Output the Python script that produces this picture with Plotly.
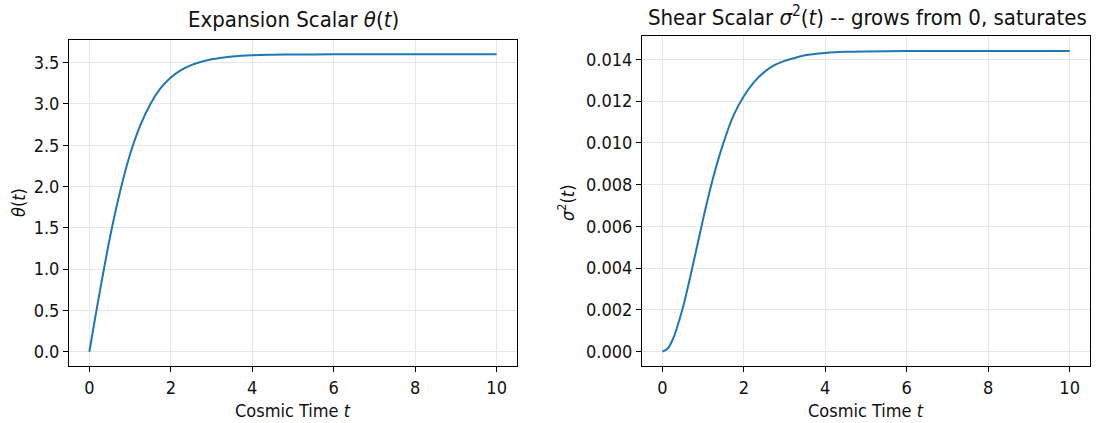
import plotly.graph_objects as go

# Data
t_vals = [0, 0.125, 0.25, 0.5, 0.75, 1.0, 1.25, 1.5, 1.75, 2.0, 2.25, 2.5, 2.75,
          3.0, 3.25, 3.5, 4.0, 4.5, 5.0, 6.0, 7.0, 8.0, 9.0, 10.0]
theta_vals = [0.0, 0.36, 0.71, 1.37, 1.93, 2.39, 2.74, 3.00, 3.19, 3.32, 3.41, 3.47, 3.51,
              3.54, 3.56, 3.575, 3.59, 3.595, 3.598, 3.6, 3.6, 3.6, 3.6, 3.6]
shear_vals = [0.0, 0.00014, 0.00056, 0.00208, 0.00415, 0.00635, 0.00835, 0.0100, 0.01133, 0.01223,
              0.01291, 0.01339, 0.01372, 0.01393, 0.01407, 0.01420, 0.01431, 0.01436, 0.01438,
              0.0144, 0.0144, 0.0144, 0.0144, 0.0144]

x_ticks = [0, 2, 4, 6, 8, 10]
theta_ticks = [0.0, 0.5, 1.0, 1.5, 2.0, 2.5, 3.0, 3.5]
shear_ticks = [0.000, 0.002, 0.004, 0.006, 0.008, 0.010, 0.012, 0.014]

W, H = 1098, 423
FONT = "DejaVu Sans Condensed, DejaVu Sans"
LINE = "#1f77b4"
GRID = "#e6e6e6"

fig = go.Figure()
fig.add_trace(go.Scatter(x=t_vals, y=theta_vals, mode="lines",
                         line=dict(color=LINE, width=2, shape="spline", smoothing=0.8),
                         xaxis="x", yaxis="y", showlegend=False))
fig.add_trace(go.Scatter(x=t_vals, y=shear_vals, mode="lines",
                         line=dict(color=LINE, width=2, shape="spline", smoothing=0.8),
                         xaxis="x2", yaxis="y2", showlegend=False))

def px(x):
    return x / W

def py(y):
    return 1 - y / H

axis_common = dict(showline=True, linecolor="black", linewidth=1, mirror=True,
                   ticks="outside", ticklen=5, tickwidth=1, tickcolor="black",
                   showgrid=True, gridcolor=GRID, gridwidth=1, zeroline=False,
                   tickfont=dict(family=FONT, size=18, color="#111"))

L_dom = [px(69), px(517)]
R_dom = [px(642), px(1090)]

fig.update_layout(
    width=W, height=H, margin=dict(l=0, r=0, t=0, b=0),
    paper_bgcolor="white", plot_bgcolor="white",
    xaxis=dict(domain=L_dom, range=[-0.5, 10.5], tickvals=x_ticks, ticktext=[str(v) for v in x_ticks],
               anchor="y", **axis_common),
    yaxis=dict(domain=[py(366), py(40)], range=[-0.173, 3.774], tickvals=theta_ticks,
               ticktext=[f"{v:.1f}" for v in theta_ticks], anchor="x", **axis_common),
    xaxis2=dict(domain=R_dom, range=[-0.5, 10.5], tickvals=x_ticks, ticktext=[str(v) for v in x_ticks],
                anchor="y2", **axis_common),
    yaxis2=dict(domain=[py(366), py(36)], range=[-0.000685, 0.01512], tickvals=shear_ticks,
                ticktext=[f"{v:.3f}" for v in shear_ticks], anchor="x2", **axis_common),
)

ann = []
def text(x, y, s, size, angle=0):
    ann.append(dict(x=px(x), y=py(y), xref="paper", yref="paper", text=s, showarrow=False,
                    font=dict(family=FONT, size=size, color="#111"), textangle=angle,
                    xanchor="center", yanchor="middle"))

text(293, 20, "Expansion Scalar <i>θ</i>(<i>t</i>)", 22)
text(867, 16, "Shear Scalar <i>σ</i><sup>2</sup>(<i>t</i>) -- grows from 0, saturates", 22)
text(293, 410, "Cosmic Time <i>t</i>", 18)
text(866, 410, "Cosmic Time <i>t</i>", 18)
text(18, 203, "<i>θ</i>(<i>t</i>)", 18, -90)
text(566, 203, "<i>σ</i><sup>2</sup>(<i>t</i>)", 18, -90)
fig.update_layout(annotations=ann)

fig.write_html("out.html")
